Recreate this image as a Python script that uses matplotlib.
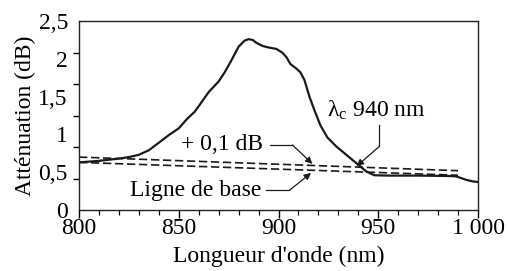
import numpy as np
import matplotlib
matplotlib.use("Agg")
import matplotlib.pyplot as plt

# ---- data ----
wavelength = [800, 805, 810, 815, 820, 825, 830, 835, 840, 845, 850, 854, 858, 861,
              865, 870, 873, 876, 880, 883, 885, 887, 889, 892, 895, 899, 902, 904,
              906, 909, 911, 913, 915.5, 918, 921, 924.5, 929, 934, 939, 944, 948,
              955, 970, 985, 989, 994, 997, 1000]
attenuation = [0.63, 0.64, 0.65, 0.665, 0.68, 0.70, 0.73, 0.79, 0.89, 0.99, 1.08, 1.20,
               1.30, 1.41, 1.56, 1.70, 1.82, 1.96, 2.16, 2.24, 2.26, 2.25, 2.21, 2.17,
               2.15, 2.13, 2.08, 2.02, 1.93, 1.87, 1.82, 1.72, 1.50, 1.32, 1.12, 0.96,
               0.84, 0.73, 0.62, 0.51, 0.46, 0.455, 0.455, 0.45, 0.445, 0.40, 0.38, 0.37]

baseline_x = [800, 990]
baseline_y = [0.63, 0.46]
plus01_x = [800, 990]
plus01_y = [0.70, 0.52]

xticks = [800, 850, 900, 950, 1000]
xticklabels = ["800", "850", "900", "950", "1 000"]
yticks = [0, 0.5, 1, 1.5, 2, 2.5]
yticklabels = ["0", "0,5", "1", "1,5", "2", "2,5"]

plt.rcParams["font.family"] = ["Liberation Serif", "DejaVu Serif"]
plt.rcParams["mathtext.fontset"] = "custom"
plt.rcParams["mathtext.rm"] = "Liberation Serif"
plt.rcParams["mathtext.it"] = "Liberation Serif:italic"

fig = plt.figure(figsize=(5.08, 2.71), dpi=100)
ax = fig.add_axes([79 / 508, 61 / 271, 399 / 508, 189 / 271])

ax.plot(wavelength, attenuation, color="#1a1a1a", lw=1.6, solid_capstyle="round")
ax.plot(baseline_x, baseline_y, color="#1a1a1a", lw=1.2, dashes=(5, 2.2))
ax.plot(plus01_x, plus01_y, color="#1a1a1a", lw=1.2, dashes=(5, 2.2))

ax.set_xlim(800, 1000)
ax.set_ylim(0, 2.5)

ax.set_xticks(xticks)
ax.set_xticklabels(xticklabels)
ax.set_xticks(np.arange(800, 1001, 10), minor=True)
ax.set_yticks(yticks)
ax.set_yticklabels(yticklabels)
ax.set_yticks(np.linspace(0, 2.5, 7), minor=True)

ax.tick_params(axis="x", which="major", direction="out", length=6, width=1,
               labelsize=17, pad=0, top=False)
ax.tick_params(axis="x", which="minor", direction="out", length=3.5, width=0.9, top=False)
ax.tick_params(axis="y", which="major", direction="out", length=0, width=1,
               labelsize=17, pad=8, right=False)
ax.tick_params(axis="y", which="minor", direction="out", length=4, width=1, right=False)

for s in ax.spines.values():
    s.set_linewidth(1.0)
    s.set_color("#222222")

ax.set_xlabel("Longueur d'onde (nm)", fontsize=17, labelpad=5)
ax.set_ylabel("Atténuation (dB)", fontsize=17, labelpad=2)

# annotations
arrow_kw = dict(arrowstyle="-|>", color="#1a1a1a", lw=0.9, mutation_scale=10,
                shrinkA=0, shrinkB=0)
# lambda_c
ax.text(949, 1.32, "λ$_{\\rm c}$ 940 nm", fontsize=17, ha="center", va="center")
ax.plot([950.5, 950.5], [1.12, 0.84], color="#1a1a1a", lw=0.9)
ax.annotate("", xy=(939.2, 0.58), xytext=(950.5, 0.84), arrowprops=arrow_kw)
# +0.1 dB
ax.text(892, 0.86, "+ 0,1 dB", fontsize=17, ha="right", va="center")
ax.plot([895.5, 907], [0.86, 0.86], color="#1a1a1a", lw=0.9)
ax.annotate("", xy=(917, 0.61), xytext=(907, 0.86), arrowprops=arrow_kw)
# baseline
ax.text(891.3, 0.255, "Ligne de base", fontsize=17, ha="right", va="center")
ax.plot([893.8, 905.5], [0.26, 0.26], color="#1a1a1a", lw=0.9)
ax.annotate("", xy=(916.3, 0.49), xytext=(905.5, 0.26), arrowprops=arrow_kw)

fig.savefig("out.png", dpi=100)
